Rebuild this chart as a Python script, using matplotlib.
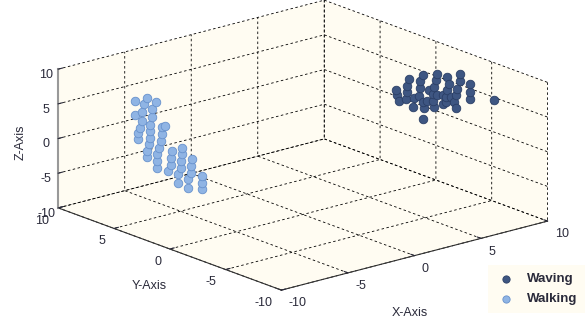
import matplotlib
matplotlib.use('Agg')
import matplotlib.pyplot as plt

plt.rcParams['font.family'] = ['Liberation Sans', 'DejaVu Sans']
plt.rcParams['axes.unicode_minus'] = False

# Walking gestures
walk_x = [-6] * 44
walk_y = [7.9, 6.8, 7.1, 6.0, 7.9, 7.3, 6.4, 7.3, 6.4, 7.4, 6.5, 7.6, 6.5, 7.6, 6.5,
          6.6, 6.8, 6.8, 5.2, 5.5, 5.5, 5.6, 5.7, 5.9, 5.9, 5.9, 4.6, 4.7, 4.7, 4.9,
          3.7, 3.7, 3.8, 3.8, 4.0, 4.0, 2.8, 2.9, 2.9, 3.1, 3.1, 1.9, 1.9, 1.9]
walk_z = [4.7, 5.8, 4.7, 5.7, 2.7, 3.4, 4.4, 2.1, 3.2, 1.1, 2.1, 0.3, 1.1, -0.7, 0.2,
          -0.8, -1.9, -2.8, 2.6, 2.3, 1.3, 0.2, -0.8, -1.8, -2.8, -3.8, -0.6, -1.6, -2.6, -3.7,
          0.4, -0.5, -1.6, -2.6, -3.6, -4.9, -0.7, -1.8, -2.7, -3.8, -5.0, -2.6, -3.6, -4.5]

# Waving gestures
wave_x = [8] * 43
wave_y = [1.2, 1.1, 0.0, 0.2, 0.2, 0.3, -0.3, -1.2, -1.0, -1.0, -0.9, -1.2, -1.3, -2.5, -2.4,
          -2.2, -2.1, -2.1, -2.2, -3.4, -3.6, -3.4, -3.3, -3.3, -4.2, -4.5, -4.5, -4.3, -4.2, -4.0,
          -5.4, -5.4, -5.4, -1.2, -7.6, -1.8, -1.6, -3.0, -2.5, -3.7, 0.9, -0.4, -3.0]
wave_z = [3.2, 2.6, 5.6, 4.5, 3.6, 2.5, 1.7, 6.8, 5.8, 4.8, 3.7, 2.9, 2.1, 7.8, 6.8,
          5.7, 4.7, 3.7, 2.8, 7.9, 7.0, 6.0, 4.9, 4.2, 3.8, 9.0, 8.0, 6.7, 5.7, 4.6,
          8.1, 6.9, 5.9, 0.5, 7.0, 5.0, 3.4, 5.0, 4.7, 5.2, 1.9, 3.0, 3.8]

ticks = [-10, -5, 0, 5, 10]
cream = '#fffcf2'
txt = '#2a2a3a'

fig = plt.figure(figsize=(5.85, 3.23), dpi=100)
ax = fig.add_axes([6 / 585, 12 / 323, 1, 1], projection='3d', proj_type='ortho')
ax.set_box_aspect((1, 1, 0.42), zoom=1.54)
ax.view_init(elev=18, azim=-130)

ax.scatter(wave_x, wave_y, wave_z, s=38, c='#3e5682', edgecolors='#2b3f66',
           linewidths=0.6, depthshade=False, label='Waving', clip_on=False)
ax.scatter(walk_x, walk_y, walk_z, s=38, c='#8fb4e4', edgecolors='#6791cc',
           linewidths=0.6, depthshade=False, label='Walking', clip_on=False)

ax.set_xlim(-10, 10)
ax.set_ylim(-10, 10)
ax.set_zlim(-10, 10)
ax.set_xticks(ticks)
ax.set_yticks(ticks)
ax.set_zticks(ticks)

for axis in (ax.xaxis, ax.yaxis, ax.zaxis):
    axis.set_pane_color(cream)
    axis.pane.set_edgecolor('none')
    axis.line.set_color('#333333')
    axis._axinfo['grid']['color'] = 'black'
    axis._axinfo['grid']['linestyle'] = (0, (3, 3))
    axis._axinfo['grid']['linewidth'] = 0.6
    axis._axinfo['tick']['inward_factor'] = 0.0
    axis._axinfo['tick']['outward_factor'] = 0.2
ax.zaxis.line.set_color('#999999')
ax.zaxis.line.set_linewidth(1.5)
ax.tick_params(labelsize=9, colors=txt)
ax.xaxis.set_tick_params(pad=-4)
ax.yaxis.set_tick_params(pad=-4)
ax.zaxis.set_tick_params(pad=-5)
plt.setp(ax.get_xticklabels(), ha='left')
plt.setp(ax.get_yticklabels(), ha='right')

fig.text(0.035, 0.56, 'Z-Axis', rotation=90, fontsize=9, color=txt, ha='center', va='center')
fig.text(0.255, 0.115, 'Y-Axis', fontsize=9, color=txt, ha='center', va='center')
fig.text(0.70, 0.03, 'X-Axis', fontsize=9, color=txt, ha='center', va='center')

leg = fig.legend(loc='lower right', bbox_to_anchor=(1.0, 0.03), frameon=True,
                 prop={'weight': 'bold', 'size': 9.5},
                 handletextpad=0.9, borderpad=0.6, handlelength=1.4, labelspacing=0.6,
                 borderaxespad=0.0, markerscale=0.85)
leg.get_frame().set_facecolor(cream)
leg.get_frame().set_edgecolor('none')
leg.get_frame().set_alpha(1)
leg.get_frame().set_boxstyle('square', pad=0)
for t in leg.get_texts():
    t.set_color(txt)

fig.savefig('out.png', dpi=100)
